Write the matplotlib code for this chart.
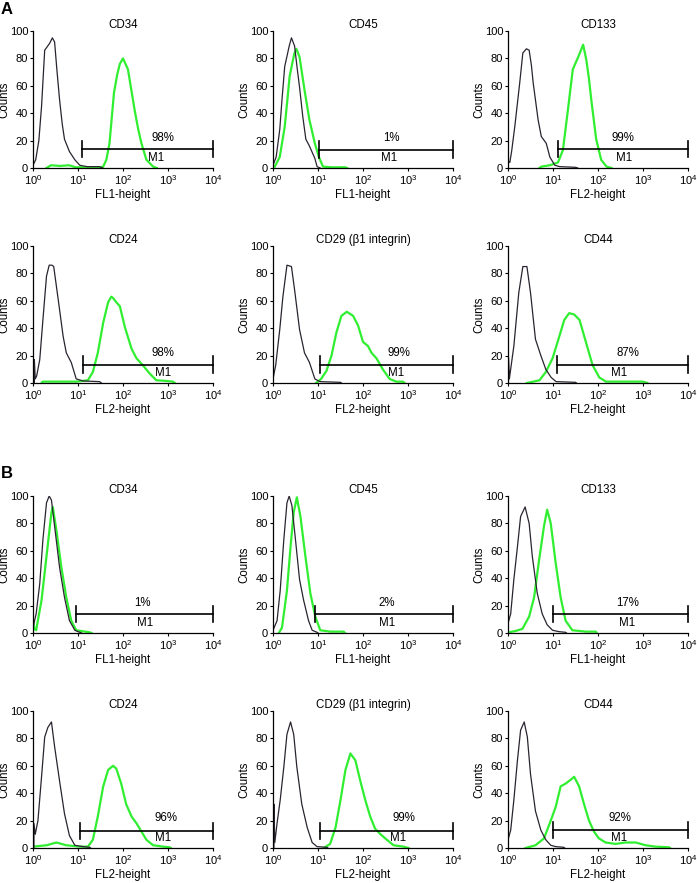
# -*- coding: utf-8 -*-
import numpy as np
import matplotlib
matplotlib.use('Agg')
import matplotlib.pyplot as plt
from matplotlib import font_manager as fm
from matplotlib.ticker import LogLocator, LogFormatterSciNotation, NullLocator, MultipleLocator

# keep the regular-width Liberation Sans (drop the Narrow cut)
fm.fontManager.ttflist = [f for f in fm.fontManager.ttflist if 'Narrow' not in f.fname]
fm.fontManager._findfont_cached.cache_clear()

plt.rcParams['font.family'] = ['Liberation Sans', 'DejaVu Sans']
FS = 8.3
TICK_FS = 8
plt.rcParams['font.size'] = FS

# histograms as (log10 fluorescence, counts), isotype = grey, antibody = green
A_CD34_ISO = [(0, 2), (0.06, 6), (0.13, 20), (0.19, 45), (0.26, 86), (0.37, 91), (0.43, 95), (0.48, 92), (0.53, 72),
              (0.59, 50), (0.65, 32), (0.70, 21), (0.81, 12), (0.93, 6), (1.04, 2), (1.2, 1), (1.48, 1), (1.55, 0)]
A_CD34_AB = [(0.3, 0), (0.4, 2), (0.6, 1.5), (0.8, 2), (0.95, 0.5), (1.3, 0.5), (1.5, 0.5), (1.56, 1), (1.63, 6),
             (1.7, 18), (1.8, 55), (1.87, 68), (1.93, 76), (2.0, 80), (2.11, 72), (2.18, 58), (2.26, 42), (2.34, 28),
             (2.41, 18), (2.52, 6), (2.67, 1), (2.75, 0)]
A_CD45_ISO = [(0, 2), (0.07, 8), (0.15, 28), (0.2, 50), (0.26, 74), (0.36, 89), (0.41, 95), (0.48, 89), (0.54, 72),
              (0.59, 59), (0.66, 38), (0.73, 21), (0.81, 16), (0.93, 7), (0.98, 1), (1.05, 0)]
A_CD45_AB = [(0.04, 1), (0.15, 8), (0.26, 30), (0.32, 50), (0.37, 67), (0.47, 83), (0.52, 87), (0.59, 81), (0.65, 68),
             (0.70, 57), (0.81, 35), (0.93, 18), (1.02, 8), (1.11, 1), (1.3, 0.5), (1.6, 0.5), (1.65, 0)]
A_CD133_ISO = [(0, 35), (0.01, 5), (0.04, 4), (0.08, 12), (0.15, 30), (0.26, 62), (0.33, 84), (0.41, 87), (0.47, 86),
               (0.52, 75), (0.56, 62), (0.67, 35), (0.74, 23), (0.85, 18), (0.93, 8), (1.04, 2), (1.15, 1), (1.5, 0.5),
               (1.55, 0)]
A_CD133_AB = [(0.7, 0), (0.74, 1), (0.93, 2), (1.11, 4), (1.22, 13), (1.33, 42), (1.44, 72), (1.56, 81), (1.67, 90),
              (1.74, 79), (1.80, 65), (1.85, 50), (1.96, 21), (2.07, 6), (2.19, 1), (2.3, 0)]
A_CD24_ISO = [(0.03, 0), (0.03, 17), (0.05, 3), (0.08, 5), (0.15, 17), (0.22, 46), (0.30, 78), (0.36, 86), (0.42, 86),
              (0.46, 85), (0.56, 61), (0.67, 34), (0.74, 22), (0.85, 15), (0.96, 3), (1.11, 1.5), (1.48, 1), (1.52, 0)]
A_CD24_AB = [(0.2, 0.5), (0.22, 1), (0.6, 1), (0.96, 1), (1.22, 2), (1.33, 8), (1.44, 22), (1.56, 44), (1.67, 59),
             (1.74, 63), (1.78, 62), (1.85, 59), (1.93, 56), (2.04, 41), (2.19, 25), (2.30, 18), (2.44, 13), (2.59, 7),
             (2.74, 2), (2.96, 1.5), (3.11, 1), (3.15, 0)]
A_CD29_ISO = [(0, 3), (0.06, 13), (0.15, 39), (0.22, 63), (0.31, 86), (0.41, 85), (0.48, 68), (0.59, 39), (0.70, 22),
              (0.81, 15), (0.93, 3), (1.04, 1), (1.5, 0.5), (1.52, 0)]
A_CD29_AB = [(0.96, 0), (1.07, 3), (1.19, 9), (1.30, 20), (1.41, 37), (1.52, 49), (1.64, 52), (1.78, 49), (1.89, 42),
             (2.0, 30), (2.11, 27), (2.19, 22), (2.30, 18), (2.44, 10), (2.59, 3), (2.74, 1), (2.89, 1), (2.92, 0)]
A_CD44_ISO = [(0.01, 0), (0.01, 19), (0.03, 3), (0.13, 27), (0.24, 66), (0.33, 85), (0.42, 85), (0.50, 66), (0.61, 32),
              (0.73, 20), (0.84, 10), (0.96, 4), (1.07, 1), (1.5, 0.5), (1.52, 0)]
A_CD44_AB = [(0.42, 0), (0.70, 2), (0.84, 8), (0.99, 18), (1.14, 34), (1.25, 46), (1.36, 51), (1.47, 50), (1.59, 46),
             (1.73, 30), (1.88, 13), (2.03, 4), (2.18, 1), (2.47, 1), (2.77, 1), (2.99, 1), (3.1, 0)]

B_CD34_ISO = [(0, 4), (0.07, 14), (0.15, 36), (0.22, 68), (0.30, 95), (0.36, 100), (0.41, 97), (0.48, 78), (0.59, 48),
              (0.70, 26), (0.81, 9), (0.93, 2), (1.04, 0.5), (1.08, 0)]
B_CD34_AB = [(0.0, 10), (0.03, 3), (0.07, 2), (0.19, 24), (0.30, 56), (0.41, 88), (0.44, 92), (0.52, 75), (0.63, 48),
             (0.74, 26), (0.85, 9), (0.96, 2), (1.26, 0.5), (1.3, 0)]
B_CD45_ISO = [(0, 2), (0.09, 9), (0.16, 31), (0.24, 68), (0.31, 95), (0.36, 100), (0.42, 93), (0.50, 68), (0.59, 39),
              (0.68, 24), (0.79, 9), (0.87, 2), (0.98, 0.5), (1.0, 0)]
B_CD45_AB = [(0.13, 0), (0.2, 4), (0.31, 31), (0.39, 63), (0.46, 88), (0.53, 99), (0.61, 85), (0.72, 56), (0.83, 29),
             (0.94, 12), (1.05, 2), (1.27, 1), (1.57, 1), (1.6, 0)]
B_CD133_ISO = [(0, 7), (0.06, 14), (0.13, 39), (0.21, 63), (0.28, 85), (0.38, 92), (0.47, 80), (0.54, 56), (0.65, 29),
               (0.76, 14), (0.87, 6), (0.99, 2), (1.13, 1), (1.28, 0.5), (1.3, 0)]
B_CD133_AB = [(0.02, 0.5), (0.17, 1.5), (0.32, 3), (0.47, 12), (0.58, 26), (0.69, 53), (0.80, 78), (0.87, 90),
              (0.95, 80), (1.06, 51), (1.17, 26), (1.28, 9), (1.43, 2), (1.73, 1), (1.95, 1), (1.97, 0)]
B_CD24_ISO = [(0.02, 0), (0.02, 18), (0.05, 10), (0.11, 20), (0.19, 52), (0.26, 81), (0.33, 88), (0.41, 92), (0.48, 74),
              (0.59, 49), (0.70, 25), (0.81, 9), (0.93, 2), (1.11, 1), (1.26, 0.5), (1.28, 0)]
B_CD24_AB = [(0, 1), (0.30, 2), (0.52, 4), (0.74, 2), (1.04, 1), (1.22, 1), (1.33, 6), (1.44, 23), (1.56, 45),
             (1.67, 57), (1.78, 60), (1.85, 58), (1.96, 47), (2.07, 32), (2.19, 23), (2.30, 18), (2.41, 12), (2.52, 6),
             (2.67, 2), (2.89, 1), (3.04, 0.5), (3.06, 0)]
B_CD29_ISO = [(0.02, 0), (0.02, 32), (0.04, 4), (0.09, 18), (0.16, 35), (0.24, 59), (0.31, 83), (0.39, 92), (0.46, 83),
              (0.53, 59), (0.64, 32), (0.76, 15), (0.87, 4), (0.98, 1), (1.2, 0.5), (1.22, 0)]
B_CD29_AB = [(1.13, 0), (1.27, 3), (1.39, 15), (1.50, 35), (1.61, 57), (1.72, 69), (1.83, 64), (1.94, 49), (2.05, 35),
             (2.16, 23), (2.27, 14), (2.39, 10), (2.53, 6), (2.68, 2), (2.90, 1), (3.01, 0)]
B_CD44_ISO = [(0, 6), (0.06, 13), (0.13, 35), (0.21, 64), (0.28, 86), (0.36, 92), (0.43, 81), (0.50, 54), (0.61, 27),
              (0.73, 13), (0.84, 6), (0.95, 2), (1.06, 1), (1.24, 0.5), (1.26, 0)]
B_CD44_AB = [(0.39, 0), (0.61, 2), (0.80, 7), (0.95, 20), (1.06, 30), (1.17, 45), (1.28, 47), (1.40, 50), (1.47, 52),
             (1.58, 45), (1.69, 32), (1.80, 20), (1.91, 12), (2.02, 7), (2.17, 4), (2.39, 3), (2.61, 4), (2.84, 4),
             (3.06, 2), (3.28, 1), (3.58, 0.5), (3.6, 0)]

titles = ['CD34', 'CD45', 'CD133', 'CD24', 'CD29 (β1 integrin)', 'CD44']
xlabels_a = ['FL1-height', 'FL1-height', 'FL2-height', 'FL2-height', 'FL2-height', 'FL2-height']
xlabels_b = ['FL1-height', 'FL1-height', 'FL1-height', 'FL2-height', 'FL2-height', 'FL2-height']
percent_a = ['98%', '1%', '99%', '98%', '99%', '87%']
percent_b = ['1%', '2%', '17%', '96%', '99%', '92%']
# M1 gate: start (log10) and drawing level (counts)
gate_start_a = [1.09, 1.02, 1.11, 1.11, 1.04, 1.08]
gate_start_b = [0.95, 0.94, 1.01, 1.04, 1.04, 1.01]
gate_level_a = [14, 13.5, 14, 13.5, 13.5, 13.5]
gate_level_b = [14, 14, 14, 12.5, 12.5, 13]

iso_a = [A_CD34_ISO, A_CD45_ISO, A_CD133_ISO, A_CD24_ISO, A_CD29_ISO, A_CD44_ISO]
ab_a = [A_CD34_AB, A_CD45_AB, A_CD133_AB, A_CD24_AB, A_CD29_AB, A_CD44_AB]
iso_b = [B_CD34_ISO, B_CD45_ISO, B_CD133_ISO, B_CD24_ISO, B_CD29_ISO, B_CD44_ISO]
ab_b = [B_CD34_AB, B_CD45_AB, B_CD133_AB, B_CD24_AB, B_CD29_AB, B_CD44_AB]

# label positions (log10) for the percentage and the M1 text
pct_x_a = [2.89, 2.63, 2.56, 2.89, 2.8, 2.66]
m1_x_a = [2.74, 2.58, 2.58, 2.89, 2.74, 2.47]
pct_x_b = [2.44, 2.52, 2.65, 2.96, 2.9, 2.49]
m1_x_b = [2.48, 2.53, 2.65, 2.89, 2.79, 2.47]

W, H = 697, 883
col_left = [33, 273, 508]
row_top = [31, 246, 496, 711]
ax_w, ax_h = 180, 137

GREY = '#2a2430'
GREEN = '#30ee30'


def plot_panel(ax, iso, ab, title, xlabel, pct, gate_lo, gate_y, pct_x, m1_x):
    e, n = zip(*ab)
    ax.plot(10 ** np.array(e), n, color=GREEN, lw=1.6)
    e, n = zip(*iso)
    ax.plot(10 ** np.array(e), n, color=GREY, lw=0.9)

    lo = 10 ** gate_lo
    ax.plot([lo, 1e4], [gate_y, gate_y], color='black', lw=1.2, clip_on=False)
    for gx in (lo, 1e4):
        ax.plot([gx, gx], [gate_y - 6, gate_y + 6], color='black', lw=1.2, clip_on=False)
    ax.text(10 ** pct_x, 22, pct, ha='center', va='center')
    ax.text(10 ** m1_x, 7, 'M1', ha='center', va='center')

    ax.set_xscale('log')
    ax.set_xlim(1, 1e4)
    ax.set_ylim(0, 100)
    ax.xaxis.set_major_locator(LogLocator(base=10, numticks=6))
    ax.xaxis.set_major_formatter(LogFormatterSciNotation())
    ax.xaxis.set_minor_locator(NullLocator())
    ax.yaxis.set_major_locator(MultipleLocator(20))
    for side in ['top', 'right']:
        ax.spines[side].set_visible(False)
    for side in ['left', 'bottom']:
        ax.spines[side].set_linewidth(0.9)
    ax.tick_params(direction='out', length=2.5, width=0.8, pad=1.0, labelsize=TICK_FS)
    ax.set_title(title, fontsize=FS, pad=2)
    ax.set_xlabel(xlabel, fontsize=FS, labelpad=1.5)
    ax.set_ylabel('Counts', fontsize=FS)
    ax.yaxis.set_label_coords(-0.125, 0.5)


fig = plt.figure(figsize=(W / 100, H / 100), dpi=100)

for g, (isos, abs_, xls, pcts, gs, gl, px, mx) in enumerate([
        (iso_a, ab_a, xlabels_a, percent_a, gate_start_a, gate_level_a, pct_x_a, m1_x_a),
        (iso_b, ab_b, xlabels_b, percent_b, gate_start_b, gate_level_b, pct_x_b, m1_x_b)]):
    for i in range(6):
        r = g * 2 + i // 3
        c = i % 3
        rect = [col_left[c] / W, 1 - (row_top[r] + ax_h) / H, ax_w / W, ax_h / H]
        ax = fig.add_axes(rect)
        plot_panel(ax, isos[i], abs_[i], titles[i], xls[i], pcts[i], gs[i], gl[i], px[i], mx[i])

fig.text(1 / W, 1 - 9 / H, 'A', fontsize=12, fontweight='bold', va='center', ha='left')
fig.text(1 / W, 1 - 473 / H, 'B', fontsize=12, fontweight='bold', va='center', ha='left')

plt.savefig('out.png', dpi=100)
